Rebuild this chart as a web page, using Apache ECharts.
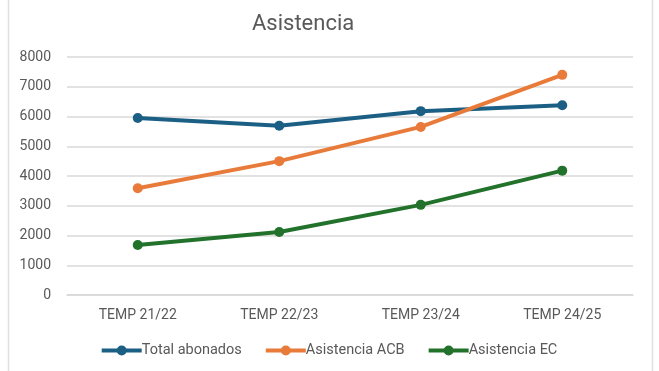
<!DOCTYPE html>
<html><head><meta charset="utf-8">
<script src="https://cdn.jsdelivr.net/npm/echarts@6/dist/echarts.min.js"></script>
<style>html,body{margin:0;padding:0;background:#fff}#c{width:659px;height:371px}</style>
</head><body><div id="c"></div>
<script>
const categories = ['TEMP 21/22', 'TEMP 22/23', 'TEMP 23/24', 'TEMP 24/25'];
const totalAbonados = [5950, 5690, 6180, 6380];
const asistenciaACB = [3590, 4500, 5650, 7400];
const asistenciaEC = [1680, 2120, 3030, 4180];
const seriesNames = ['Total abonados', 'Asistencia ACB', 'Asistencia EC'];
const colors = ['#1c5f85', '#e97b3a', '#23722c'];

const chart = echarts.init(document.getElementById('c'), null, {renderer: 'canvas'});
const font = 'Roboto, "Liberation Sans", sans-serif';
const legendIcon = 'path://M0,3L16,3L16,7L0,7Z M24,3L40,3L40,7L24,7Z M15,5A5,5 0 1,1 25,5A5,5 0 1,1 15,5Z';
function mk(name, data, color) {
  return {
    name, type: 'line', data,
    symbol: 'circle', symbolSize: 10,
    lineStyle: {width: 4, color},
    itemStyle: {color},
    emphasis: {disabled: true}
  };
}
chart.setOption({
  animation: false,
  title: {text: 'Asistencia', left: 247, top: 8,
    textStyle: {fontFamily: font, fontSize: 22, fontWeight: 'normal', color: '#595959'}},
  grid: {left: 67, right: 26, top: 57, bottom: 76, containLabel: false},
  xAxis: {type: 'category', data: categories, boundaryGap: true,
    axisLine: {lineStyle: {color: '#d9d9d9', width: 1.5}},
    axisTick: {show: false},
    axisLabel: {fontFamily: font, fontSize: 14, color: '#595959', margin: 13}},
  yAxis: {type: 'value', min: 0, max: 8000, interval: 1000,
    axisLine: {show: false}, axisTick: {show: false},
    splitLine: {lineStyle: {color: '#d9d9d9', width: 1.5}},
    axisLabel: {fontFamily: font, fontSize: 14, color: '#595959', margin: 16,
      formatter: v => String(v)}},
  legend: {bottom: 8, left: 'center', itemWidth: 40, itemHeight: 10, itemGap: 24,
    icon: legendIcon,
    textStyle: {fontFamily: font, fontSize: 14.5, color: '#595959', padding: [0,0,0,-5]},
    data: seriesNames},
  series: [
    mk(seriesNames[0], totalAbonados, colors[0]),
    mk(seriesNames[1], asistenciaACB, colors[1]),
    mk(seriesNames[2], asistenciaEC, colors[2])
  ],
  graphic: [
    {type: 'line', shape: {x1: 8.5, y1: 0, x2: 8.5, y2: 371}, style: {stroke: '#e0e0e0', lineWidth: 1.5}, silent: true},
    {type: 'line', shape: {x1: 652.5, y1: 0, x2: 652.5, y2: 371}, style: {stroke: '#e0e0e0', lineWidth: 1.5}, silent: true}
  ]
});
</script></body></html>
